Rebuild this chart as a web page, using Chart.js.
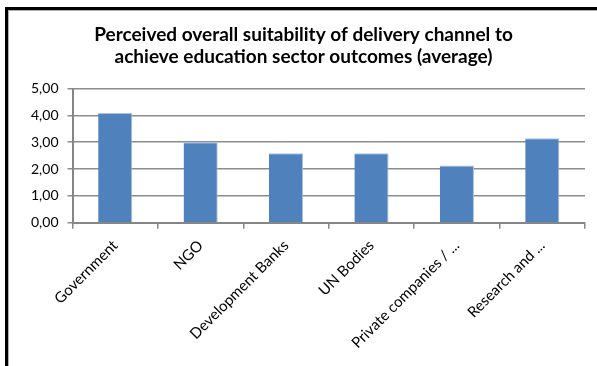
<!DOCTYPE html>
<html>
<head>
<meta charset="utf-8">
<script src="https://cdn.jsdelivr.net/npm/chart.js@4/dist/chart.umd.min.js"></script>
<style>
  html, body { margin: 0; padding: 0; overflow: hidden; background: #fff; }
  #frame {
    position: absolute; left: 5px; top: 7px; width: 700px; height: 400px;
    border-left: 3px solid #000; border-top: 3px solid #000;
    box-shadow: inset 1px 1px 0 #b0b0b0;
  }
  #wrap { position: absolute; left: 0; top: 0; width: 610px; height: 366px; }
</style>
</head>
<body>
<div id="frame"></div>
<div id="wrap"><canvas id="chart" width="610" height="366"></canvas></div>
<script>
const channels = [
  "Government",
  "NGO",
  "Development Banks",
  "UN Bodies",
  "Private companies / ...",
  "Research and ...",
];
const averageScores = [4.09, 3.0, 2.59, 2.59, 2.13, 3.15];
const titleLines = [
  "Perceived overall suitability of delivery channel to",
  "achieve education sector outcomes (average)",
];

const axisGrey = "#868686";
Chart.defaults.font.family = "Lato, 'Open Sans', sans-serif";
Chart.defaults.color = "#000";

new Chart(document.getElementById("chart"), {
  type: "bar",
  data: {
    labels: channels,
    datasets: [
      {
        label: "Average",
        data: averageScores,
        backgroundColor: "#4F81BD",
        borderColor: "#A9C2E0",
        borderWidth: { top: 1, right: 1, left: 0, bottom: 0 },
        barPercentage: 0.4,
        categoryPercentage: 1,
      },
    ],
  },
  options: {
    responsive: false,
    animation: false,
    layout: { padding: { left: 22, right: 25, top: 0, bottom: 6 } },
    plugins: {
      legend: { display: false },
      tooltip: { enabled: false },
      title: {
        display: true,
        text: titleLines,
        font: { size: 19, weight: "bold" },
        lineHeight: 1.4,
        padding: { top: 23, bottom: 20 },
        color: "#000",
      },
    },
    scales: {
      x: {
        grid: {
          display: true,
          drawOnChartArea: false,
          drawTicks: true,
          tickLength: 6,
          color: axisGrey,
          lineWidth: 1.5,
        },
        border: { color: axisGrey, width: 2 },
        ticks: {
          maxRotation: 45,
          minRotation: 45,
          padding: 8,
          font: { size: 15 },
          autoSkip: false,
        },
      },
      y: {
        min: 0,
        max: 5,
        grid: {
          color: "#8c8c8c",
          lineWidth: 1.5,
          tickLength: 5,
        },
        border: { color: axisGrey, width: 2 },
        ticks: {
          stepSize: 1,
          padding: 9,
          font: { size: 14 },
          callback: (v) => v.toFixed(2).replace(".", ","),
        },
      },
    },
  },
});
</script>
</body>
</html>
